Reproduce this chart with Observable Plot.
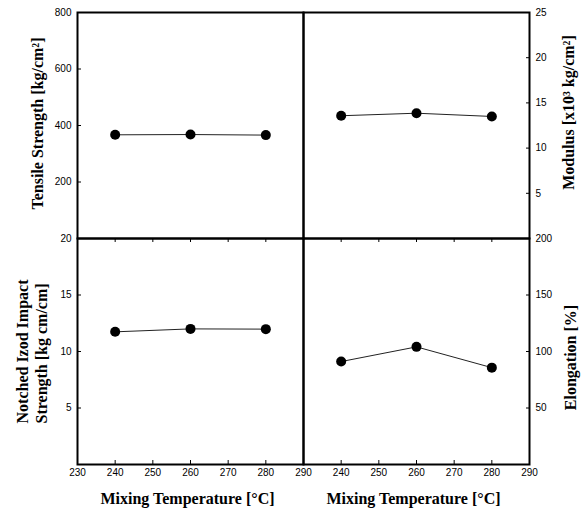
<!DOCTYPE html>
<html><head><meta charset="utf-8">
<script src="https://cdn.jsdelivr.net/npm/d3@7"></script>
<script src="https://cdn.jsdelivr.net/npm/@observablehq/plot@0.6"></script>
<style>
body{margin:0;background:#fff}
#chart{position:relative;width:586px;height:515px;background:#fff}
#chart svg{position:absolute;left:0;top:0}
</style></head><body><div id="chart"></div>
<script>
// ---- data ----
const temperatures = [240, 260, 280];
const tensileStrength = [367, 368, 366];
const modulus = [13.58, 13.86, 13.5];
const izodImpact = [11.74, 12.0, 11.98];
const elongation = [91.1, 104.1, 85.7];

const xTicksLeft = [230, 240, 250, 260, 270, 280, 290];
const xTicksRight = [240, 250, 260, 270, 280, 290];
const tensileTicks = [200, 400, 600, 800];
const modulusTicks = [5, 10, 15, 20, 25];
const izodTicks = [5, 10, 15, 20];
const elongationTicks = [50, 100, 150, 200];

const xDomain = [230, 290];
const tensileDomain = [0, 800];
const modulusDomain = [0, 25];
const izodDomain = [0, 20];
const elongationDomain = [0, 200];

const tensileLabel = "Tensile Strength [kg/cm²]";
const modulusLabel = "Modulus [x10³ kg/cm²]";
const izodLabel = "Notched Izod Impact\nStrength [kg cm/cm]";
const elongationLabel = "Elongation [%]";
const xLabel = "Mixing Temperature [°C]";

// ---- layout ----
const W = 586, H = 515;
const L = 77, M = 303, R = 529, T = 12, C = 238, B = 464;
const serif = "Liberation Serif, Times New Roman, serif";
const sans = "Liberation Sans Narrow, Arial Narrow, Liberation Sans, Arial, sans-serif";

function panel({values, yDomain, yTicks, side, top, xTicks, title, titleDx, titleDy, titleAnchor}) {
  const data = temperatures.map((t, i) => ({t, v: values[i]}));
  const left = side === "left";
  const marks = [
    Plot.frame({stroke: "#000", strokeWidth: 2}),
    Plot.axisY({ticks: yTicks, anchor: side, tickSize: -4, tickPadding: 10, label: null,
      fontSize: 10, fontFamily: sans, tickFormat: d => String(d)}),
    Plot.line(data, {x: "t", y: "v", stroke: "#222", strokeWidth: 1}),
    Plot.dot(data, {x: "t", y: "v", r: 5, fill: "#000", stroke: "none"}),
    Plot.text([title], {frameAnchor: side, rotate: -90, dx: titleDx, dy: titleDy,
      textAnchor: titleAnchor, lineAnchor: "middle", lineHeight: 1.15,
      fontFamily: serif, fontWeight: "bold", fontSize: 16, fill: "#000"})
  ];
  if (!top) {
    marks.push(Plot.axisX({ticks: xTicks, anchor: "bottom", tickSize: -4, tickPadding: 8, label: null,
      fontSize: 10, fontFamily: sans, tickFormat: d => String(d)}));
    marks.push(Plot.axisX({ticks: xTicks, anchor: "top", tickSize: -3, label: null, tickFormat: () => ""}));
    marks.push(Plot.text([xLabel], {frameAnchor: "bottom", dy: 39, dx: -3,
      fontFamily: serif, fontWeight: "bold", fontSize: 16, fill: "#000"}));
  }
  return Plot.plot({
    width: W, height: H,
    marginLeft: left ? L : M,
    marginRight: W - (left ? M : R),
    marginTop: top ? T : C,
    marginBottom: H - (top ? C : B),
    x: top ? {domain: xDomain, axis: null} : {domain: xDomain},
    y: {domain: yDomain},
    style: {background: "transparent", overflow: "visible", color: "#000"},
    marks
  });
}

const chart = document.getElementById("chart");
chart.append(
  panel({values: tensileStrength, yDomain: tensileDomain, yTicks: tensileTicks, side: "left", top: true,
    title: tensileLabel, titleDx: -40, titleDy: -2, titleAnchor: "middle"}),
  panel({values: modulus, yDomain: modulusDomain, yTicks: modulusTicks, side: "right", top: true,
    title: modulusLabel, titleDx: 39, titleDy: -13, titleAnchor: "middle"}),
  panel({values: izodImpact, yDomain: izodDomain, yTicks: izodTicks, side: "left", top: false, xTicks: xTicksLeft,
    title: izodLabel, titleDx: -46, titleDy: 72, titleAnchor: "start"}),
  panel({values: elongation, yDomain: elongationDomain, yTicks: elongationTicks, side: "right", top: false, xTicks: xTicksRight,
    title: elongationLabel, titleDx: 41, titleDy: 6, titleAnchor: "middle"})
);
</script></body></html>
